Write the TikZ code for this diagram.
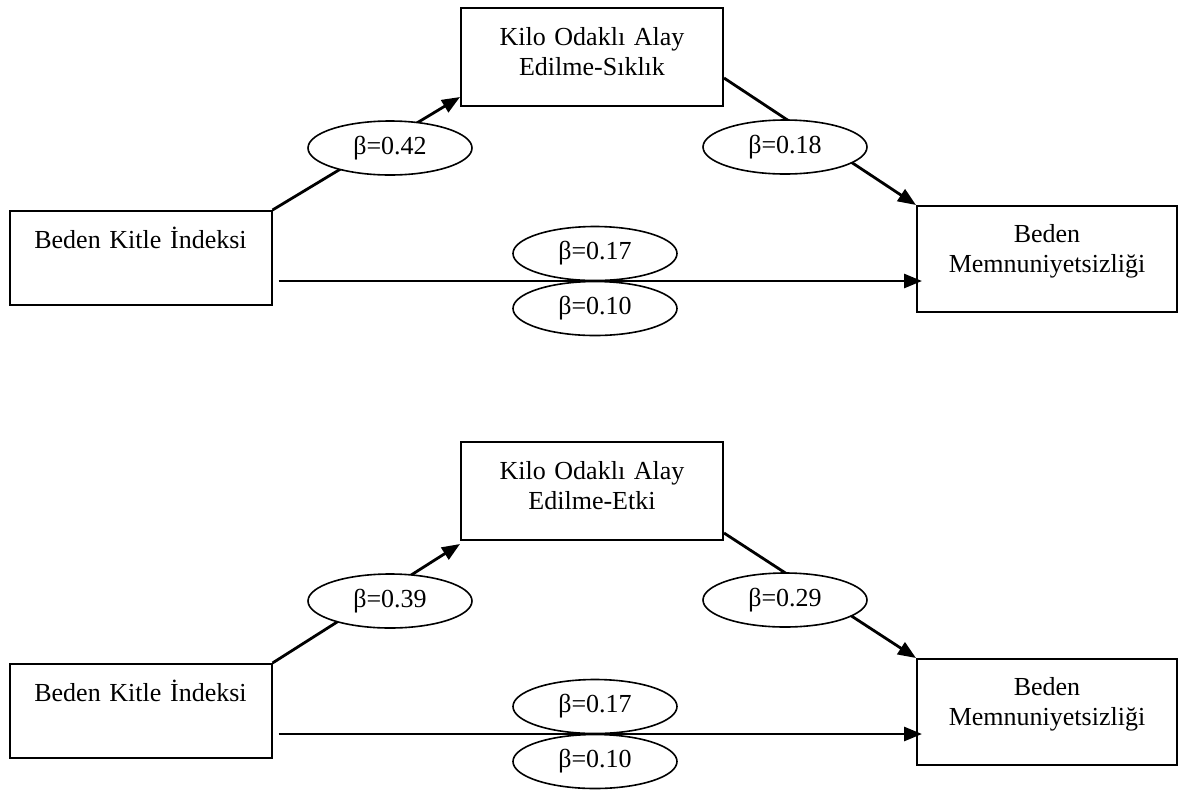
\documentclass[tikz,border=0pt]{standalone}
\usepackage{fontspec}
\setmainfont{Liberation Serif}
\usetikzlibrary{arrows.meta,shapes.geometric}
\tikzset{
  varbox/.style={
    draw,
    line width = 1pt,
    inner sep = 0pt,
    text width = 131pt,
    align = center,
    text height = 18.5pt
  },
  coef/.style={
    draw,
    shape = ellipse,
    fill = white,
    line width = 0.8pt,
    inner sep = 0pt,
    minimum width = 82pt,
    minimum height = 27pt
  },
  arr/.style={
    line width = 1.4pt,
    -{Triangle[length=9pt,width=7pt]}
  }
}

\begin{document}
\begin{tikzpicture}[x=0.5pt, y=-0.5pt, font=\fontsize{13pt}{15pt}\selectfont]
    \useasboundingbox (0,0) rectangle (1179,789);
    % two mediation models, second one shifted down
    \foreach \i/\dy/\ky/\ta/\tb/\kind/\ca/\cb in {1/0/57/5pt/14.5pt/Sıklık/0.42/0.18, 2/453/38/-1.5pt/4pt/Etki/0.39/0.29}{
      \begin{scope}[shift={(0,\dy)}]
        \node[varbox, text depth=28.5pt] (bki\i) at (140.5,258) {Beden Kitle İndeksi};
        \node[varbox, text depth=30.5pt] (kilo\i) at (592,\ky) {Kilo Odaklı Alay\\Edilme-\kind};
        \node[varbox, text width=130pt, text height=18pt, text depth=35pt] (bm\i) at (1047,259) {Beden\\Memnuniyetsizliği};
        \draw[arr] (bki\i.north east) -- ([yshift=\ta]kilo\i.south west);
        \draw[arr] ([yshift=\tb]kilo\i.south east) -- (bm\i.north west);
        \draw[arr] ([xshift=3pt,yshift=-11.5pt]bki\i.east) -- ([xshift=3pt,yshift=-11.5pt]bki\i.east -| bm\i.west);
        \node[coef] (a\i) at (390,148) {β=\ca};
        \node[coef] (b\i) at (785,147) {β=\cb};
        \node[coef] (c\i) at (595,253.5) {β=0.17};
        \node[coef] (d\i) at (595,308.5) {β=0.10};
      \end{scope}
    }
\end{tikzpicture}
\end{document}
